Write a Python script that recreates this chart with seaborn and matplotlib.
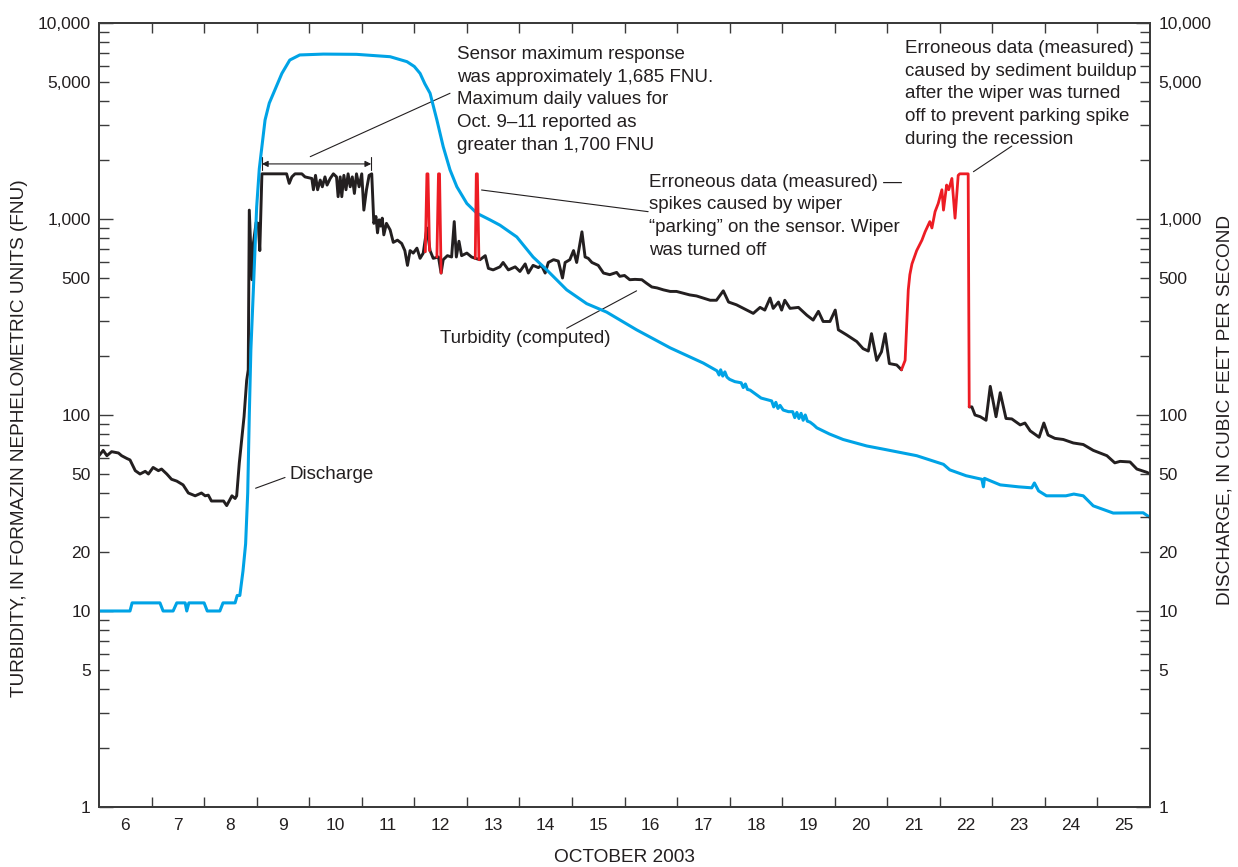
import numpy as np
import pandas as pd
import matplotlib
matplotlib.use("Agg")
import matplotlib.pyplot as plt
from matplotlib.ticker import FixedLocator, FuncFormatter, NullFormatter, FixedFormatter
import seaborn as sns

# ---------------- data (x = day of October 2003, fractional) ----------------
discharge_day = [6.00, 6.59, 6.63, 7.16, 7.22, 7.41, 7.48, 7.64, 7.67, 7.71, 8.00, 8.06, 8.30, 8.36,
                 8.59, 8.63, 8.68, 8.74, 8.79, 8.83, 8.86, 8.89, 8.94, 9.00, 9.05, 9.10, 9.16, 9.24,
                 9.32, 9.48, 9.63, 9.82, 10.27, 10.90, 11.54, 11.86, 12.00, 12.11, 12.20, 12.30,
                 12.43, 12.55, 12.68, 12.81, 13.00, 13.19, 13.44, 13.63, 13.95, 14.26, 14.52, 14.90,
                 15.28, 15.66, 16.23, 16.87, 17.50, 17.76, 17.80, 17.83, 17.87, 17.91, 17.95, 18.00,
                 18.10, 18.22, 18.26, 18.30, 18.34, 18.39, 18.60, 18.80, 18.84, 18.88, 18.92, 18.96,
                 19.02, 19.12, 19.20, 19.24, 19.28, 19.32, 19.36, 19.40, 19.44, 19.48, 19.53, 19.60,
                 19.66, 19.90, 20.16, 20.61, 20.92, 21.56, 22.07, 22.19, 22.50, 22.80, 22.83, 22.85,
                 23.15, 23.50, 23.75, 23.80, 23.88, 24.03, 24.40, 24.55, 24.73, 24.92, 25.30, 25.87,
                 26.00]
discharge_cfs = [10, 10, 11, 11, 10, 10, 11, 11, 10, 11, 11, 10, 10, 11,
                 11, 12, 12, 16, 22, 40, 100, 215, 452, 1150, 1800, 2340, 3200, 3900,
                 4380, 5530, 6470, 6870, 6940, 6920, 6730, 6350, 6000, 5530, 4900, 4380,
                 3200, 2340, 1780, 1460, 1200, 1070, 990, 930, 810, 640, 550, 435,
                 370, 335, 272, 220, 184, 168, 160, 170, 158, 166, 156, 152,
                 148, 146, 138, 144, 135, 134, 122, 118, 110, 116, 108, 112,
                 106, 104, 104, 97, 103, 96, 102, 94, 100, 93, 92, 89,
                 86, 80, 75, 69.5, 67, 62, 56, 52.5, 49, 47, 43, 47.5,
                 44, 43, 42.5, 45, 41, 38.7, 38.7, 39.5, 38.7, 34.4, 31.6, 31.7,
                 30]

# Turbidity (computed), before the wiper-off period
turb_a_day = [6.00, 6.08, 6.15, 6.24, 6.37, 6.43, 6.53, 6.59, 6.69, 6.78, 6.88, 6.94, 7.03, 7.13,
              7.19, 7.29, 7.38, 7.48, 7.60, 7.70, 7.83, 7.95, 8.02, 8.08, 8.14, 8.37, 8.43, 8.53,
              8.59, 8.62, 8.67, 8.72, 8.76, 8.81, 8.84, 8.86, 8.91, 8.94, 8.99, 9.03, 9.06, 9.10,
              9.57, 9.62, 9.67, 9.73, 9.86, 9.92, 10.05, 10.08, 10.12, 10.16, 10.21, 10.25, 10.30,
              10.34, 10.40, 10.46, 10.52, 10.55, 10.59, 10.62, 10.66, 10.70, 10.74, 10.78, 10.82,
              10.86, 10.90, 10.95, 11.00, 11.04, 11.09, 11.14, 11.19, 11.23, 11.27, 11.30, 11.33,
              11.36, 11.39, 11.42, 11.47, 11.54, 11.60, 11.68, 11.76, 11.82, 11.87, 11.92, 11.98,
              12.05, 12.11, 12.17, 12.24, 12.30, 12.36, 12.46, 12.51, 12.55, 12.63, 12.71, 12.76,
              12.80, 12.85, 12.90, 13.00, 13.09, 13.16, 13.25, 13.35, 13.41, 13.50, 13.63, 13.69,
              13.79, 13.92, 14.01, 14.11, 14.17, 14.26, 14.36, 14.42, 14.49, 14.55, 14.65, 14.74,
              14.82, 14.87, 14.96, 15.03, 15.09, 15.19, 15.25, 15.31, 15.38, 15.50, 15.60, 15.72,
              15.85, 15.91, 16.00, 16.10, 16.20, 16.33, 16.42, 16.52, 16.62, 16.74, 16.87, 16.99,
              17.12, 17.24, 17.37, 17.50, 17.63, 17.75, 17.88, 17.98, 18.13,
              18.33, 18.45, 18.58, 18.67, 18.77, 18.83, 18.93, 18.99, 19.05, 19.15, 19.31, 19.47,
              19.59, 19.69, 19.78, 19.91, 20.01, 20.07, 20.23, 20.42, 20.54, 20.64, 20.70, 20.80,
              20.89, 20.96, 21.04, 21.18, 21.27]
turb_a_fnu = [62, 66, 62, 65, 64, 62, 60, 59, 52, 50, 51.6, 50, 54, 52,
              53, 50, 47, 46, 44, 40, 38.7, 40, 38.7, 39, 36.4, 36.4, 34.5, 38.7,
              37.5, 38.7, 57, 77, 98, 150, 170, 1110, 490, 760, 960, 950, 690, 1700,
              1700, 1520, 1640, 1700, 1700, 1640, 1610, 1410, 1670, 1410, 1580, 1460, 1640,
              1490, 1610, 1700, 1640, 1300, 1640, 1300, 1670, 1410, 1700, 1460, 1640,
              1350, 1700, 1460, 1700, 1110, 1410, 1670, 1700, 950, 1030, 850, 990,
              920, 1010, 830, 950, 880, 760, 780, 750, 690, 580, 690, 670,
              710, 630, 670, 900, 690, 630, 640, 530, 620, 650, 640, 970,
              640, 770, 650, 670, 640, 630, 620, 650, 560, 550, 570, 600,
              550, 570, 540, 590, 530, 580, 565, 580, 530, 600, 620, 610,
              500, 600, 620, 690, 600, 860, 640, 630, 600, 580, 530, 520,
              534, 510, 515, 490, 492, 490, 470, 450, 445, 435, 427, 427,
              418, 410, 405, 395, 385, 385, 430, 377, 365,
              343, 330, 354, 343, 395, 350, 377, 343, 385, 350, 354, 323,
              305, 338, 300, 300, 343, 272, 256, 237, 218, 212, 260, 190,
              210, 260, 183, 180, 170]

# Turbidity (computed), after the wiper-off period
turb_b_day = [22.56, 22.61, 22.67, 22.77, 22.88, 22.96, 23.07, 23.15, 23.26, 23.37, 23.53, 23.62,
              23.72, 23.89, 23.98, 24.06, 24.19, 24.35, 24.54, 24.73, 24.92, 25.18, 25.33, 25.43,
              25.62, 25.75, 25.94, 26.00]
turb_b_fnu = [110, 110, 100, 98, 94, 140, 98, 130, 96, 95.5, 89, 91,
              83, 77, 91, 79, 76, 75, 72, 70.7, 66, 62, 57, 58,
              57.6, 53, 51, 50]

# Erroneous data (measured)
err_day = [12.21, 12.24, 12.26, 12.29,
           12.43, 12.46, 12.48, 12.51,
           13.16, 13.18, 13.20, 13.23,
           21.27, 21.34, 21.40, 21.43, 21.47, 21.56, 21.66, 21.72, 21.81, 21.85, 21.91,
           21.97, 22.04, 22.07, 22.13, 22.17, 22.23, 22.29, 22.35, 22.38, 22.54, 22.56]
err_fnu = [680, 1700, 1700, 690,
           640, 1700, 1700, 530,
           630, 1700, 1700, 620,
           170, 190, 435, 520, 590, 690, 780, 860, 970, 900, 1090,
           1200, 1410, 1110, 1490, 1410, 1610, 1010, 1670, 1700, 1700, 110]
err_segment = [1, 1, 1, 1,
               2, 2, 2, 2,
               3, 3, 3, 3,
               4, 4, 4, 4, 4, 4, 4, 4, 4, 4, 4,
               4, 4, 4, 4, 4, 4, 4, 4, 4, 4, 4]

day_labels = ["6", "7", "8", "9", "10", "11", "12", "13", "14", "15", "16", "17", "18", "19",
              "20", "21", "22", "23", "24", "25"]
y_labelled = [1, 5, 10, 20, 50, 100, 500, 1000, 5000, 10000]

# ---------------- build frames ----------------
df_q = pd.DataFrame({"day": discharge_day, "cfs": discharge_cfs})
df_t = pd.DataFrame({"day": turb_a_day + turb_b_day,
                     "fnu": turb_a_fnu + turb_b_fnu,
                     "seg": [1] * len(turb_a_day) + [2] * len(turb_b_day)})
df_e = pd.DataFrame({"day": err_day, "fnu": err_fnu, "seg": err_segment})

# ---------------- style ----------------
sns.set_theme(style="ticks")
plt.rcParams["font.family"] = ["Liberation Sans", "DejaVu Sans"]
TXT = "#231f20"
AX = "#3b3b3b"
TICKFS = 12.5

fig = plt.figure(figsize=(12.38, 8.67), dpi=100)
ax = fig.add_axes([99 / 1238, 60 / 867, 1051 / 1238, 784 / 867])
ax2 = ax.twinx()

sns.lineplot(data=df_t, x="day", y="fnu", units="seg", estimator=None, sort=False,
             color="#231f20", lw=2.1, ax=ax, zorder=3)
sns.lineplot(data=df_q, x="day", y="cfs", estimator=None, sort=False,
             color="#00a3e6", lw=2.2, ax=ax, zorder=4)
sns.lineplot(data=df_e, x="day", y="fnu", units="seg", estimator=None, sort=False,
             color="#ed1c24", lw=2.0, ax=ax, zorder=5)

for a in (ax, ax2):
    a.set_yscale("log")
    a.set_ylim(1, 10000)
    a.set_xlim(6, 26)
    major = [1, 10, 100, 1000, 10000]
    minor = [m * 10 ** e for e in range(4) for m in range(2, 10)]
    a.yaxis.set_major_locator(FixedLocator(major))
    a.yaxis.set_minor_locator(FixedLocator(minor))
    fmt = FuncFormatter(lambda v, _: f"{int(round(v)):,}" if int(round(v)) in y_labelled else "")
    a.yaxis.set_major_formatter(fmt)
    a.yaxis.set_minor_formatter(fmt)
    for s in a.spines.values():
        s.set_color(AX)
        s.set_linewidth(1.4)
        s.set_visible(True)

ax.tick_params(axis="y", which="major", direction="in", length=10, width=1.0, color=AX,
               labelsize=TICKFS, labelcolor=TXT, pad=6, left=True, right=False)
ax.tick_params(axis="y", which="minor", direction="in", length=7.2, width=1.0, color=AX,
               labelsize=TICKFS, labelcolor=TXT, pad=6, left=True, right=False)
ax2.tick_params(axis="y", which="major", direction="in", length=10, width=1.0, color=AX,
                labelsize=TICKFS, labelcolor=TXT, pad=6, right=True, left=False)
ax2.tick_params(axis="y", which="minor", direction="in", length=7.2, width=1.0, color=AX,
                labelsize=TICKFS, labelcolor=TXT, pad=6, right=True, left=False)

# x axis: day boundaries get ticks, labels sit at day centres
ax.xaxis.set_major_locator(FixedLocator(list(range(7, 26))))
ax.xaxis.set_major_formatter(NullFormatter())
ax.xaxis.set_minor_locator(FixedLocator([d + 0.5 for d in range(6, 26)]))
ax.xaxis.set_minor_formatter(FixedFormatter(day_labels))
ax.tick_params(axis="x", which="major", direction="in", length=7.2, width=1.0, color=AX,
               top=True, bottom=True)
ax.tick_params(axis="x", which="minor", length=0, labelsize=TICKFS, labelcolor=TXT, pad=8)

ax.set_xlabel("OCTOBER 2003", fontsize=13.7, color=TXT, va="center")
ax.xaxis.set_label_coords(0.5, -0.0638)
ax.set_ylabel("TURBIDITY, IN FORMAZIN NEPHELOMETRIC UNITS (FNU)", fontsize=13.7, color=TXT,
              va="center", ha="center")
ax.yaxis.set_label_coords(-0.0752, 0.471)
ax2.set_ylabel("DISCHARGE, IN CUBIC FEET PER SECOND", fontsize=13.7, color=TXT,
               va="center", ha="center", rotation=90)
ax2.yaxis.set_label_coords(1.0714, 0.506)

# ---------------- annotations ----------------
FS = 13.5
LS = 1.44
ax.text(12.81, 7650, "Sensor maximum response\nwas approximately 1,685 FNU.\n"
        "Maximum daily values for\nOct. 9\u201311 reported as\ngreater than 1,700 FNU",
        fontsize=FS, color=TXT, ha="left", va="top", linespacing=LS)
ax.plot([10.02, 12.68], [2080, 4380], color=TXT, lw=0.8)
ax.annotate("", xy=(9.10, 1910), xytext=(11.18, 1910),
            arrowprops=dict(arrowstyle="<|-|>", color=TXT, lw=0.8, mutation_scale=9,
                            shrinkA=0, shrinkB=0))
ax.plot([9.10, 9.10], [1780, 2080], color=TXT, lw=0.8)
ax.plot([11.18, 11.18], [1780, 2080], color=TXT, lw=0.8)

ax.text(16.47, 1705, "Erroneous data (measured) \u2014\nspikes caused by wiper\n"
        "\u201cparking\u201d on the sensor. Wiper\nwas turned off",
        fontsize=FS, color=TXT, ha="left", va="top", linespacing=LS)
ax.plot([13.28, 16.45], [1406, 1090], color=TXT, lw=0.8)

ax.text(21.34, 8200, "Erroneous data (measured)\ncaused by sediment buildup\n"
        "after the wiper was turned\noff to prevent parking spike\nduring the recession",
        fontsize=FS, color=TXT, ha="left", va="top", linespacing=LS)
ax.plot([22.64, 23.37], [1743, 2355], color=TXT, lw=0.8)

ax.text(12.49, 247, "Turbidity (computed)", fontsize=FS, color=TXT, ha="left", va="center")
ax.plot([14.90, 16.23], [277, 430], color=TXT, lw=0.8)

ax.text(9.63, 50, "Discharge", fontsize=FS, color=TXT, ha="left", va="center")
ax.plot([8.98, 9.54], [42.3, 48], color=TXT, lw=0.8)

if ax.get_legend():
    ax.get_legend().remove()

fig.savefig("out.png", dpi=100)
